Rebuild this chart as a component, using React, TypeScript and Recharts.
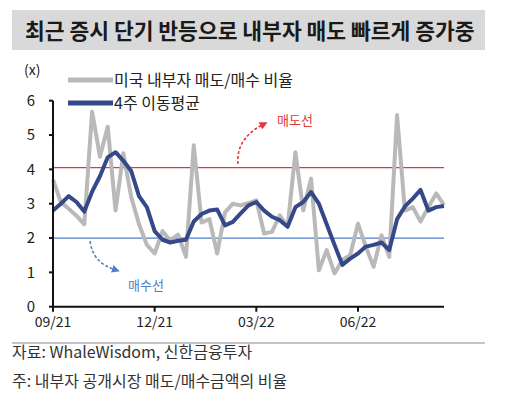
import React from 'react';
import { LineChart, Line, XAxis, YAxis, ReferenceLine } from 'recharts';

// weekly observations (Wed), 09/21 ~ 08/22
const weeks = [
  '2021-09-01', '2021-09-08', '2021-09-15', '2021-09-22', '2021-09-29',
  '2021-10-06', '2021-10-13', '2021-10-20', '2021-10-27',
  '2021-11-03', '2021-11-10', '2021-11-17', '2021-11-24',
  '2021-12-01', '2021-12-08', '2021-12-15', '2021-12-22', '2021-12-29',
  '2022-01-05', '2022-01-12', '2022-01-19', '2022-01-26',
  '2022-02-02', '2022-02-09', '2022-02-16', '2022-02-23',
  '2022-03-02', '2022-03-09', '2022-03-16', '2022-03-23', '2022-03-30',
  '2022-04-06', '2022-04-13', '2022-04-20', '2022-04-27',
  '2022-05-04', '2022-05-11', '2022-05-18', '2022-05-25',
  '2022-06-01', '2022-06-08', '2022-06-15', '2022-06-22', '2022-06-29',
  '2022-07-06', '2022-07-13', '2022-07-20', '2022-07-27',
  '2022-08-03', '2022-08-10', '2022-08-17',
];

// 미국 내부자 매도/매수 비율
const sellBuyRatio = [
  3.7, 3.05, 2.85, 2.65, 2.4, 5.68, 4.37, 5.24, 2.8, 4.47,
  3.2, 2.4, 1.8, 1.55, 2.2, 1.93, 2.1, 1.45, 4.7, 2.45,
  2.55, 1.55, 2.75, 3.0, 2.95, 3.02, 3.1, 2.13, 2.18, 2.66,
  2.33, 4.5, 2.8, 3.73, 1.06, 1.65, 0.97, 1.36, 1.5, 2.42,
  1.75, 1.16, 2.08, 1.45, 5.58, 2.8, 2.9, 2.48, 2.9, 3.3,
  2.96,
];

// 4주 이동평균
const movingAvg4w = [
  2.8, 3.0, 3.22, 3.05, 2.77, 3.35, 3.8, 4.35, 4.5, 4.25,
  3.95, 3.22, 2.9, 2.2, 1.95, 1.87, 1.92, 1.95, 2.48, 2.7,
  2.8, 2.83, 2.37, 2.47, 2.72, 2.95, 3.05, 2.8, 2.62, 2.52,
  2.33, 2.9, 3.05, 3.34, 3.0, 2.4, 1.8, 1.22, 1.4, 1.55,
  1.75, 1.8, 1.87, 1.65, 2.55, 2.92, 3.15, 3.4, 2.8, 2.9,
  2.93,
];

const yTicks = [0, 1, 2, 3, 4, 5, 6];
const sellLine = 4.05; // 매도선
const buyLine = 2.0; // 매수선

const chartData = weeks.map((w, i) => ({
  week: w,
  ratio: sellBuyRatio[i],
  ma: movingAvg4w[i],
}));

const FONT = '"Noto Sans CJK KR", "Noto Sans", sans-serif';
const GREY = '#b9b9b9';
const NAVY = '#34488a';
const RED = '#e0393a';
const BLUE = '#4f7fc9';

const fmtWeek = (v: string) => `${v.slice(5, 7)}/${v.slice(2, 4)}`;

export default function App() {
  return (
    <div
      style={{
        position: 'absolute',
        left: 0,
        top: 0,
        width: 509,
        height: 402,
        background: '#fff',
        fontFamily: FONT,
        overflow: 'hidden',
      }}
    >
      <div
        style={{
          position: 'absolute',
          left: 12,
          top: 10,
          width: 473,
          height: 40,
          background: '#d9d9d9',
          color: '#1a1a1a',
          fontWeight: 700,
          fontSize: 21.5,
          lineHeight: '40px',
          paddingLeft: 13,
          boxSizing: 'border-box',
          whiteSpace: 'nowrap',
        }}
      >
        최근 증시 단기 반등으로 내부자 매도 빠르게 증가중
      </div>

      <div style={{ position: 'absolute', left: 0, top: 0 }}>
        <LineChart
          width={509}
          height={340}
          data={chartData}
          margin={{ top: 100.7, right: 65, bottom: 3.3, left: 13 }}
        >
          <XAxis
            dataKey="week"
            interval={12}
            tickFormatter={fmtWeek}
            axisLine={{ stroke: '#111', strokeWidth: 2 }}
            tickLine={{ stroke: '#111', strokeWidth: 2 }}
            tickSize={5}
            tickMargin={5}
            height={30}
            tick={{ fontSize: 14, fill: '#222', fontFamily: FONT }}
          />
          <YAxis
            domain={[0, 6]}
            ticks={yTicks}
            interval={0}
            width={40}
            axisLine={{ stroke: '#111', strokeWidth: 2 }}
            tickLine={{ stroke: '#111', strokeWidth: 2 }}
            tickSize={4}
            tickMargin={14}
            tick={{ fontSize: 15, fill: '#222', fontFamily: FONT }}
          />
          <ReferenceLine y={sellLine} stroke={RED} strokeWidth={1.2} />
          <ReferenceLine y={buyLine} stroke={BLUE} strokeWidth={1.2} />
          <Line
            type="linear"
            dataKey="ratio"
            stroke={GREY}
            strokeWidth={4}
            dot={false}
            strokeLinejoin="round"
            isAnimationActive={false}
          />
          <Line
            type="linear"
            dataKey="ma"
            stroke={NAVY}
            strokeWidth={4}
            dot={false}
            strokeLinejoin="round"
            isAnimationActive={false}
          />
        </LineChart>
      </div>

      {/* unit, legend, annotations */}
      <svg
        width={509}
        height={402}
        style={{ position: 'absolute', left: 0, top: 0, pointerEvents: 'none' }}
      >
        <defs>
          <marker id="arrRed" viewBox="0 0 10 10" refX="5" refY="5" markerWidth="5" markerHeight="5" orient="auto">
            <path d="M0,0 L10,5 L0,10 z" fill={RED} />
          </marker>
          <marker id="arrBlue" viewBox="0 0 10 10" refX="5" refY="5" markerWidth="5" markerHeight="5" orient="auto">
            <path d="M0,0 L10,5 L0,10 z" fill={BLUE} />
          </marker>
        </defs>
        <text x={24} y={75} fontSize={14} fill="#222" fontFamily={FONT}>(x)</text>

        <line x1={68} y1={80} x2={113} y2={80} stroke={GREY} strokeWidth={5} />
        <text x={114} y={85.5} fontSize={16} fill="#222" fontFamily={FONT}>미국 내부자 매도/매수 비율</text>
        <line x1={68} y1={103} x2={113} y2={103} stroke={NAVY} strokeWidth={5} />
        <text x={114} y={108.5} fontSize={16} fill="#222" fontFamily={FONT}>4주 이동평균</text>

        <path
          d="M238,164 C236,145 248,132 264,124"
          fill="none"
          stroke={RED}
          strokeWidth={1.6}
          strokeDasharray="3 2"
          markerEnd="url(#arrRed)"
        />
        <text x={277} y={125} fontSize={13} fill={RED} fontFamily={FONT}>매도선</text>

        <path
          d="M90,241 C92,256 100,265 116,270"
          fill="none"
          stroke={BLUE}
          strokeWidth={1.6}
          strokeDasharray="3 2"
          markerEnd="url(#arrBlue)"
        />
        <text x={128} y={290} fontSize={13} fill={BLUE} fontFamily={FONT}>매수선</text>

        <line x1={12} y1={343} x2={485} y2={343} stroke="#c4c4c4" strokeWidth={2} />
        <text x={12} y={358} fontSize={16} fill="#333" fontFamily={FONT}>자료: WhaleWisdom, 신한금융투자</text>
        <text x={12} y={387} fontSize={16} fill="#333" fontFamily={FONT}>주: 내부자 공개시장 매도/매수금액의 비율</text>
      </svg>
    </div>
  );
}
